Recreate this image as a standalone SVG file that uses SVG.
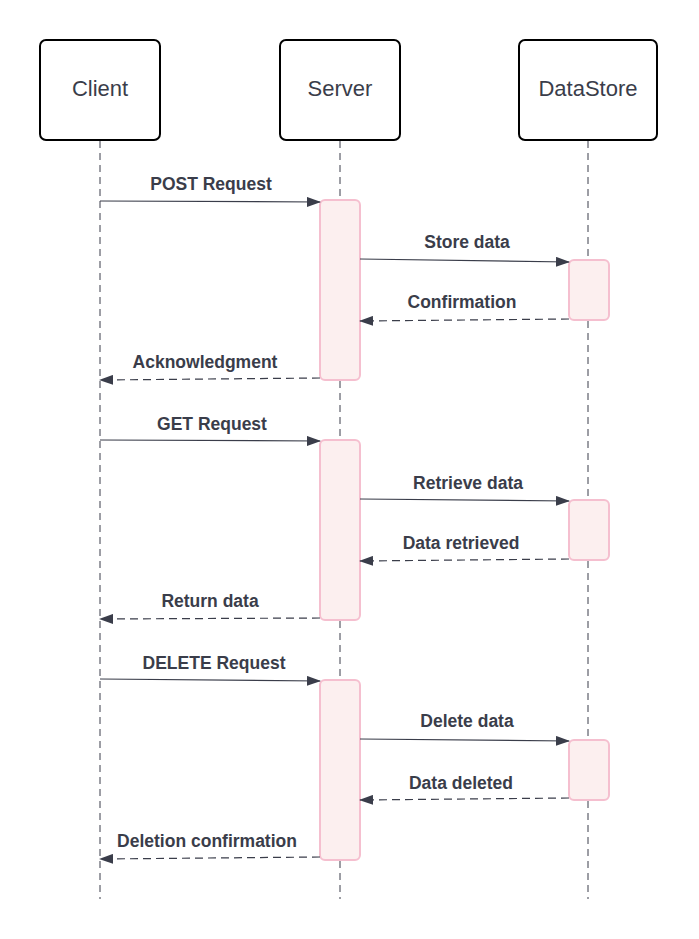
<svg xmlns="http://www.w3.org/2000/svg" width="699" height="939" viewBox="0 0 699 939">
<defs>
<marker id="ah" markerWidth="14" markerHeight="10" refX="13" refY="5" orient="auto" markerUnits="userSpaceOnUse">
<path d="M0,0 L14,5 L0,10 Z" fill="#3a3d4a"/>
</marker>
<style>
.node rect{fill:#fff;stroke:#000;stroke-width:2}
.node text{font-family:"Liberation Sans",Arial,sans-serif;font-size:22px;fill:#3a3d4a;text-anchor:middle}
.life{stroke:#3a3d4a;stroke-width:1;stroke-dasharray:7,5;fill:none}
.act{fill:#fcefef;stroke:#f5bfcf;stroke-width:2}
.msg{stroke:#3a3d4a;stroke-width:1.2;fill:none;marker-end:url(#ah)}
.ret{stroke:#3a3d4a;stroke-width:1.2;fill:none;stroke-dasharray:8,5;marker-end:url(#ah)}
.lbl{font-family:"Liberation Sans",Arial,sans-serif;font-size:17.5px;font-weight:bold;fill:#3a3d4a;text-anchor:middle}
</style>
</defs>
<rect width="699" height="939" fill="#fff"/>
<g id="lifelines">
<line class="life" x1="100" y1="141" x2="100" y2="899"/>
<line class="life" x1="340" y1="141" x2="340" y2="899"/>
<line class="life" x1="588" y1="141" x2="588" y2="899"/>
</g>
<g id="client" class="node"><rect x="40" y="40" width="120" height="100" rx="6"/><text x="100" y="96">Client</text></g>
<g id="server" class="node"><rect x="280" y="40" width="120" height="100" rx="6"/><text x="340" y="96">Server</text></g>
<g id="datastore" class="node"><rect x="519" y="40" width="138" height="100" rx="6"/><text x="588" y="96">DataStore</text></g>
<g id="activations">
<rect class="act" x="320" y="200" width="40" height="180" rx="5"/>
<rect class="act" x="569" y="260" width="40" height="60" rx="5"/>
<rect class="act" x="320" y="440" width="40" height="180" rx="5"/>
<rect class="act" x="569" y="500" width="40" height="60" rx="5"/>
<rect class="act" x="320" y="680" width="40" height="180" rx="5"/>
<rect class="act" x="569" y="740" width="40" height="60" rx="5"/>
</g>
<g id="connectors">
<path class="msg" d="M100,201 L320,202"/>
<path class="msg" d="M360,259 L569,262"/>
<path class="ret" d="M569,319 L360,321"/>
<path class="ret" d="M320,378 L100,380"/>
<path class="msg" d="M100,440 L320,441"/>
<path class="msg" d="M360,499 L569,501"/>
<path class="ret" d="M569,559 L360,561"/>
<path class="ret" d="M320,618 L100,619"/>
<path class="msg" d="M100,679 L320,681"/>
<path class="msg" d="M360,739 L569,741"/>
<path class="ret" d="M569,798 L360,800"/>
<path class="ret" d="M320,857 L100,859"/>
</g>
<g id="labels">
<text class="lbl" x="211" y="190">POST Request</text>
<text class="lbl" x="467" y="248">Store data</text>
<text class="lbl" x="462" y="308">Confirmation</text>
<text class="lbl" x="205" y="368">Acknowledgment</text>
<text class="lbl" x="212" y="430">GET Request</text>
<text class="lbl" x="468" y="489">Retrieve data</text>
<text class="lbl" x="461" y="549">Data retrieved</text>
<text class="lbl" x="210" y="607">Return data</text>
<text class="lbl" x="214" y="669">DELETE Request</text>
<text class="lbl" x="467" y="727">Delete data</text>
<text class="lbl" x="461" y="789">Data deleted</text>
<text class="lbl" x="207" y="847">Deletion confirmation</text>
</g>
</svg>
